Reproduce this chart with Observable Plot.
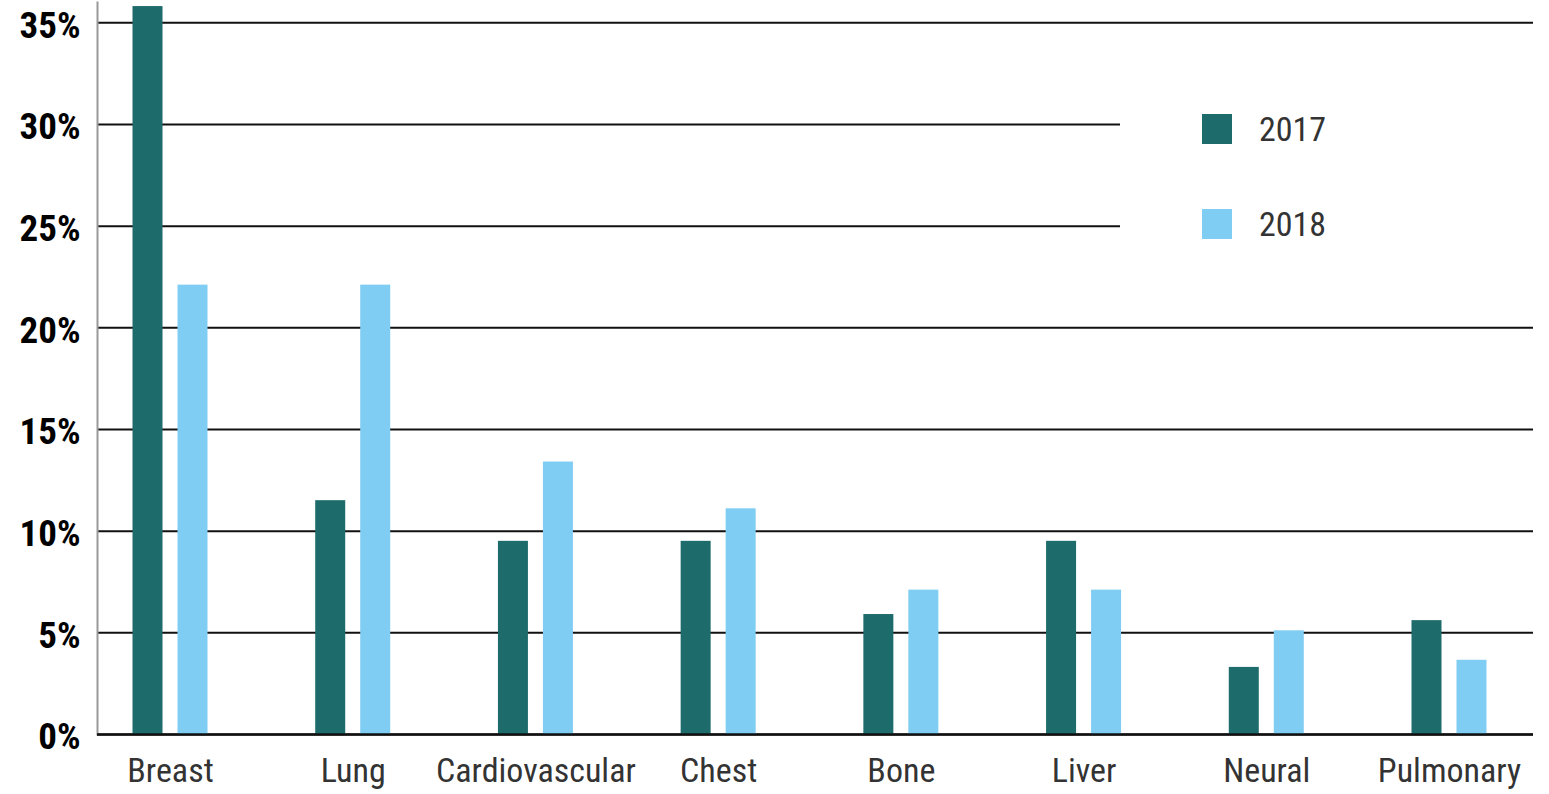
<!DOCTYPE html>
<html>
<head>
<meta charset="utf-8">
<script src="https://cdn.jsdelivr.net/npm/d3@7"></script>
<script src="https://cdn.jsdelivr.net/npm/@observablehq/plot@0.6"></script>
<style>
  html, body { margin: 0; padding: 0; background: #fff; }
  #wrap { position: relative; width: 1549px; height: 794px; overflow: hidden; }
  #legend { position: absolute; left: 1120px; top: 60px; width: 429px; height: 225px; background: #fff;
            font-family: "Roboto Condensed", Roboto, sans-serif; font-size: 34px; color: #333; }
  .item { position: absolute; left: 82px; display: flex; align-items: center; height: 30px; }
  .sw { width: 30px; height: 30px; margin-right: 27px; }
</style>
</head>
<body>
<div id="wrap"></div>
<script>
const categories = ["Breast", "Lung", "Cardiovascular", "Chest", "Bone", "Liver", "Neural", "Pulmonary"];
const years = ["2017", "2018"];
const values2017 = [35.8, 11.5, 9.5, 9.5, 5.9, 9.5, 3.3, 5.6];
const values2018 = [22.1, 22.1, 13.4, 11.1, 7.1, 7.1, 5.1, 3.65];
const colors = ["#1e6b6c", "#80cdf3"];
const yTicks = [0, 5, 10, 15, 20, 25, 30, 35];

const rows2017 = categories.map((c, i) => ({category: c, year: years[0], value: values2017[i]}));
const rows2018 = categories.map((c, i) => ({category: c, year: years[1], value: values2018[i]}));

const W = 1549, H = 794;
const step = (1449 - 170) / 7;
const barW = 30, offset = 22.5;
const inset = (step - barW) / 2;

const chart = Plot.plot({
  width: W,
  height: H,
  marginLeft: 97,
  marginRight: 16,
  marginTop: 2,
  marginBottom: 60,
  style: {fontFamily: "'Roboto Condensed', Roboto, sans-serif", background: "#fff"},
  x: {domain: categories, range: [170 - step / 2, 1449 + step / 2], padding: 0, round: false},
  y: {domain: [0, 36]},
  color: {domain: years, range: colors},
  marks: [
    Plot.ruleY(yTicks, {stroke: "#111", strokeWidth: 2}),
    Plot.frame({anchor: "left", stroke: "#999", strokeWidth: 2}),
    Plot.barY(rows2017, {x: "category", y: "value", fill: "year", insetLeft: inset, insetRight: inset, dx: -offset}),
    Plot.barY(rows2018, {x: "category", y: "value", fill: "year", insetLeft: inset, insetRight: inset, dx: offset}),
    Plot.ruleY([0], {stroke: "#111", strokeWidth: 2.5}),
    Plot.axisY({ticks: yTicks, tickSize: 0, tickPadding: 17, tickFormat: d => d + "%", fontSize: 37, fontWeight: "bold", fill: "#000", label: null, dy: 3}),
    Plot.axisX({tickSize: 0, tickPadding: 23, fontSize: 34, fill: "#333", label: null})
  ]
});

const wrap = document.getElementById("wrap");
wrap.appendChild(chart);

const legend = document.createElement("div");
legend.id = "legend";
years.forEach((yr, i) => {
  const item = document.createElement("div");
  item.className = "item";
  item.style.top = (54 + i * 95) + "px";
  const sw = document.createElement("div");
  sw.className = "sw";
  sw.style.background = colors[i];
  const t = document.createElement("span");
  t.textContent = yr;
  item.appendChild(sw);
  item.appendChild(t);
  legend.appendChild(item);
});
wrap.appendChild(legend);
</script>
</body>
</html>
